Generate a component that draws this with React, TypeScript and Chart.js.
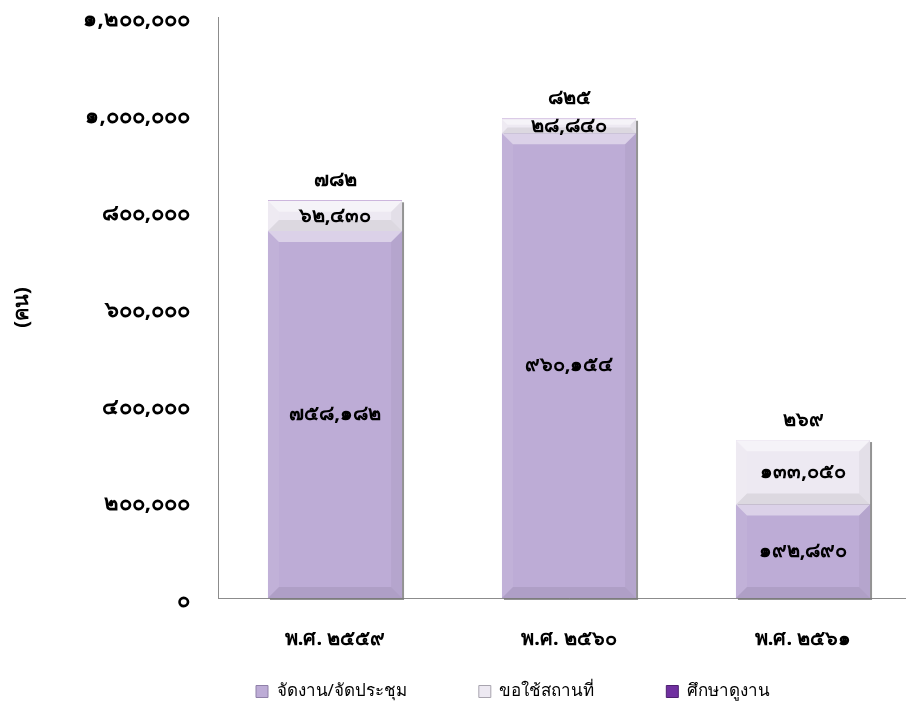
import React, { useEffect, useRef } from 'react';
import { Chart, registerables } from 'chart.js';

Chart.register(...registerables);

const categories = ['พ.ศ. ๒๕๕๙', 'พ.ศ. ๒๕๖๐', 'พ.ศ. ๒๕๖๑'];
const seriesNames = ['จัดงาน/จัดประชุม', 'ขอใช้สถานที่', 'ศึกษาดูงาน'];
const eventValues = [758182, 960154, 192890];
const venueValues = [62430, 28840, 133050];
const studyValues = [782, 825, 269];
const yAxisTitle = '(คน)';
const yMin = 0;
const yMax = 1200000;
const yStep = 200000;

const THAI_DIGITS = '๐๑๒๓๔๕๖๗๘๙';
const toThai = (n: number) =>
  Math.round(n)
    .toLocaleString('en-US')
    .replace(/\d/g, (d) => THAI_DIGITS[Number(d)]);

const FONT = "'Noto Sans', sans-serif";
const LEGEND_PAD = 72;
const LEGEND_FONT = 17;

const bevelPlugin = {
  id: 'bevel',
  beforeDatasetsDraw(chart: any) {
    const ctx = chart.ctx;
    const metas = chart.getSortedVisibleDatasetMetas();
    const n = chart.data.labels.length;
    for (let i = 0; i < n; i++) {
      let top = Infinity;
      let bottom = -Infinity;
      let left = 0;
      let right = 0;
      metas.forEach((m: any) => {
        const el = m.data[i];
        if (!el) return;
        top = Math.min(top, el.y, el.base);
        bottom = Math.max(bottom, el.y, el.base);
        left = el.x - el.width / 2;
        right = el.x + el.width / 2;
      });
      ctx.save();
      ctx.fillStyle = 'rgba(120,120,120,0.8)';
      ctx.fillRect(left + 2, top + 2, right - left, bottom - top);
      ctx.restore();
    }
  },
  afterDatasetsDraw(chart: any) {
    const ctx = chart.ctx;
    const metas = chart.getSortedVisibleDatasetMetas();
    metas.forEach((m: any) => {
      m.data.forEach((el: any) => {
        const left = el.x - el.width / 2;
        const right = el.x + el.width / 2;
        const top = Math.min(el.y, el.base);
        const bottom = Math.max(el.y, el.base);
        const h = bottom - top;
        const w = right - left;
        if (h < 2) return;
        const b = Math.min(11, h / 2.5, w / 2);
        ctx.save();
        ctx.beginPath();
        ctx.moveTo(left, top);
        ctx.lineTo(right, top);
        ctx.lineTo(right - b, top + b);
        ctx.lineTo(left + b, top + b);
        ctx.closePath();
        ctx.fillStyle = 'rgba(255,255,255,0.45)';
        ctx.fill();
        ctx.beginPath();
        ctx.moveTo(left, top);
        ctx.lineTo(left + b, top + b);
        ctx.lineTo(left + b, bottom - b);
        ctx.lineTo(left, bottom);
        ctx.closePath();
        ctx.fillStyle = 'rgba(255,255,255,0.07)';
        ctx.fill();
        ctx.beginPath();
        ctx.moveTo(right, top);
        ctx.lineTo(right - b, top + b);
        ctx.lineTo(right - b, bottom - b);
        ctx.lineTo(right, bottom);
        ctx.closePath();
        ctx.fillStyle = 'rgba(0,0,0,0.04)';
        ctx.fill();
        ctx.beginPath();
        ctx.moveTo(left, bottom);
        ctx.lineTo(left + b, bottom - b);
        ctx.lineTo(right - b, bottom - b);
        ctx.lineTo(right, bottom);
        ctx.closePath();
        ctx.fillStyle = 'rgba(0,0,0,0.07)';
        ctx.fill();
        ctx.restore();
      });
    });
  },
};

const labelPlugin = {
  id: 'valueLabels',
  afterDatasetsDraw(chart: any) {
    const ctx = chart.ctx;
    ctx.save();
    ctx.font = `bold 20px ${FONT}`;
    ctx.fillStyle = '#000000';
    ctx.textAlign = 'center';
    ctx.textBaseline = 'middle';
    const metas = chart.getSortedVisibleDatasetMetas();
    metas.forEach((m: any) => {
      const ds = chart.data.datasets[m.index];
      m.data.forEach((el: any, i: number) => {
        const text = toThai(ds.data[i]);
        const top = Math.min(el.y, el.base);
        const bottom = Math.max(el.y, el.base);
        if (m.index === 2) {
          ctx.fillText(text, el.x, top - 20);
        } else {
          ctx.fillText(text, el.x, (top + bottom) / 2);
        }
      });
    });
    ctx.restore();
  },
};

// place the legend row below the category labels, starting at the reference's left edge
const legendPlacePlugin = {
  id: 'legendPlace',
  afterLayout(chart: any) {
    const lg = chart.legend;
    if (!lg) return;
    const h = lg.height;
    lg.top = 611;
    lg.bottom = 611 + h;
    lg.left = 256 - LEGEND_PAD;
  },
};

export default function App() {
  const ref = useRef<HTMLCanvasElement | null>(null);
  useEffect(() => {
    if (!ref.current) return;
    const chart = new Chart(ref.current, {
      type: 'bar',
      data: {
        labels: categories,
        datasets: [
          {
            label: seriesNames[0],
            data: eventValues,
            backgroundColor: '#BDACD6',
            borderColor: '#8F80A8',
            borderWidth: 0,
          },
          {
            label: seriesNames[1],
            data: venueValues,
            backgroundColor: '#EDE9F2',
            borderColor: '#A8A4AE',
            borderWidth: 0,
          },
          {
            label: seriesNames[2],
            data: studyValues,
            backgroundColor: '#7030A0',
            borderColor: '#4E2070',
            borderWidth: 0,
          },
        ],
      },
      options: {
        animation: false,
        responsive: true,
        maintainAspectRatio: false,
        layout: { padding: { left: 0, right: 0, top: 17, bottom: -40 } },
        datasets: {
          bar: { categoryPercentage: 1, barPercentage: 0.573 },
        },
        plugins: {
          tooltip: { enabled: false },
          legend: {
            position: 'bottom',
            align: 'start',
            labels: {
              color: '#000000',
              font: { family: FONT, size: LEGEND_FONT },
              boxWidth: 12,
              boxHeight: 12,
              padding: LEGEND_PAD,
              generateLabels: (c: any) =>
                c.data.datasets.map((d: any, i: number) => ({
                  text: d.label,
                  fillStyle: d.backgroundColor,
                  strokeStyle: d.borderColor,
                  lineWidth: 1,
                  hidden: false,
                  datasetIndex: i,
                  fontColor: '#000000',
                })),
            },
          },
        },
        scales: {
          x: {
            stacked: true,
            grid: { display: false, drawTicks: false, tickLength: 0 },
            border: { display: true, color: '#8C8C8C', width: 1 },
            ticks: {
              color: '#000000',
              font: { family: FONT, size: 20, weight: 'bold' },
              padding: 29,
            },
            afterFit: (s: any) => {
              s.height = 56;
            },
          },
          y: {
            stacked: true,
            min: yMin,
            max: yMax,
            grid: { display: false, drawTicks: false, tickLength: 0 },
            border: { display: true, color: '#8C8C8C', width: 1 },
            ticks: {
              stepSize: yStep,
              color: '#000000',
              font: { family: FONT, size: 22, weight: 'bold' },
              padding: 28,
              labelOffset: 3,
              callback: (v: any) => toThai(Number(v)),
            },
            title: {
              display: true,
              text: yAxisTitle,
              color: '#000000',
              font: { family: FONT, size: 20, weight: 'bold' },
              padding: { top: 10, bottom: 0 },
            },
            afterFit: (s: any) => {
              s.width = 218;
              s.paddingTop = 0;
              s.paddingBottom = 0;
            },
          },
        },
      },
      plugins: [bevelPlugin, labelPlugin, legendPlacePlugin],
    });
    return () => chart.destroy();
  }, []);

  return (
    <div
      style={{
        position: 'fixed',
        left: 0,
        top: 0,
        width: 906,
        height: 713,
        overflow: 'hidden',
        background: '#ffffff',
      }}
    >
      <div style={{ position: 'relative', width: 920, height: 713 }}>
        <canvas ref={ref} />
      </div>
    </div>
  );
}
